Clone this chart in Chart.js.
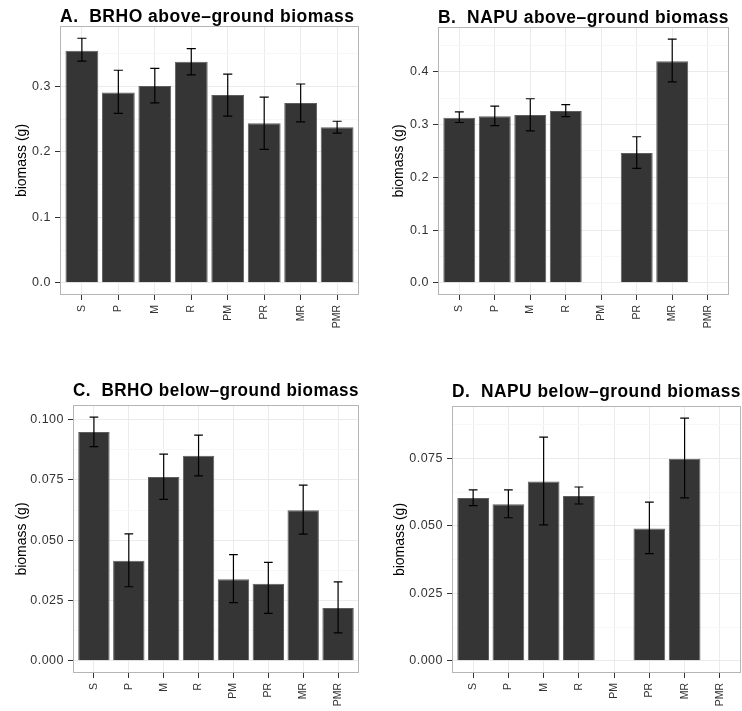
<!DOCTYPE html>
<html>
<head>
<meta charset="utf-8">
<script src="https://cdn.jsdelivr.net/npm/chart.js@4/dist/chart.umd.min.js"></script>
<style>
  body { margin: 0; background: #fff; }
  .panel { position: absolute; }
</style>
</head>
<body>
<div class="panel" style="left:0;top:0;width:370px;height:360px"><canvas id="chartA"></canvas></div>
<div class="panel" style="left:370px;top:0;width:372px;height:360px"><canvas id="chartB"></canvas></div>
<div class="panel" style="left:0;top:360px;width:370px;height:351px"><canvas id="chartC"></canvas></div>
<div class="panel" style="left:370px;top:360px;width:372px;height:351px"><canvas id="chartD"></canvas></div>
<script>
const treatments = ['S', 'P', 'M', 'R', 'PM', 'PR', 'MR', 'PMR'];

// A. BRHO above-ground biomass (mean, lower and upper error)
const brhoAbove   = [0.355, 0.291, 0.301, 0.338, 0.287, 0.244, 0.275, 0.238];
const brhoAboveLo = [0.339, 0.259, 0.275, 0.318, 0.255, 0.204, 0.246, 0.229];
const brhoAboveHi = [0.374, 0.325, 0.328, 0.358, 0.319, 0.284, 0.304, 0.247];

// B. NAPU above-ground biomass (PM and PMR missing)
const napuAbove   = [0.313, 0.316, 0.318, 0.326, null, 0.246, 0.420, null];
const napuAboveLo = [0.304, 0.298, 0.288, 0.315, null, 0.217, 0.381, null];
const napuAboveHi = [0.324, 0.335, 0.349, 0.338, null, 0.277, 0.462, null];

// C. BRHO below-ground biomass
const brhoBelow   = [0.0949, 0.0415, 0.0762, 0.0850, 0.0338, 0.0319, 0.0624, 0.0219];
const brhoBelowLo = [0.0888, 0.0307, 0.0669, 0.0767, 0.0241, 0.0197, 0.0525, 0.0116];
const brhoBelowHi = [0.1010, 0.0526, 0.0857, 0.0936, 0.0440, 0.0408, 0.0728, 0.0327];

// D. NAPU below-ground biomass
const napuBelow   = [0.0603, 0.0580, 0.0664, 0.0611, null, 0.0490, 0.0749, null];
const napuBelowLo = [0.0575, 0.0530, 0.0504, 0.0581, null, 0.0397, 0.0604, null];
const napuBelowHi = [0.0633, 0.0633, 0.0829, 0.0644, null, 0.0588, 0.0899, null];

// y tick labels (major) and minor grid lines
const ticksAbove   = [0, 0.1, 0.2, 0.3];
const minorAbove   = [0.05, 0.15, 0.25, 0.35];
const ticksAboveB  = [0, 0.1, 0.2, 0.3, 0.4];
const minorAboveB  = [0.05, 0.15, 0.25, 0.35, 0.45];
const ticksBelowC  = [0, 0.025, 0.05, 0.075, 0.1];
const minorBelowC  = [0.0125, 0.0375, 0.0625, 0.0875];
const ticksBelowD  = [0, 0.025, 0.05, 0.075];
const minorBelowD  = [0.0125, 0.0375, 0.0625, 0.0875];

const yAxisTitle = 'biomass (g)';

const FONT = "'Liberation Sans', Arial, Helvetica, sans-serif";
const TRACKING = '0.5px';   // horizontal text in the original is a little loose

function isMajor(v, majors) {
  return majors.some(m => Math.abs(m - v) < 1e-9);
}

// error bars, grey panel border and the rotated y axis title
function errorBarPlugin(p) {
  return {
    id: 'errorBars',
    beforeDraw(chart) {
      chart.ctx.letterSpacing = TRACKING;
    },
    beforeDatasetsDraw(chart) {
      chart.ctx.letterSpacing = '0px';
    },
    afterDatasetsDraw(chart) {
      const {ctx, chartArea, scales: {x, y}} = chart;
      const half = (x.getPixelForValue(1) - x.getPixelForValue(0)) * 0.125;
      ctx.save();
      ctx.strokeStyle = '#000';
      ctx.lineWidth = 1.2;
      p.lo.forEach((l, i) => {
        if (l == null) return;
        const px = x.getPixelForValue(i);
        const yl = y.getPixelForValue(l);
        const yh = y.getPixelForValue(p.hi[i]);
        ctx.beginPath();
        ctx.moveTo(px, yl); ctx.lineTo(px, yh);
        ctx.moveTo(px - half, yl); ctx.lineTo(px + half, yl);
        ctx.moveTo(px - half, yh); ctx.lineTo(px + half, yh);
        ctx.stroke();
      });
      ctx.strokeStyle = '#b5b5b5';
      ctx.lineWidth = 1;
      ctx.strokeRect(chartArea.left + 0.5, chartArea.top + 0.5,
        chartArea.right - chartArea.left - 1, chartArea.bottom - chartArea.top - 1);

      ctx.translate(p.axisTitleX, (chartArea.top + chartArea.bottom) / 2);
      ctx.rotate(-Math.PI / 2);
      ctx.font = '14px ' + FONT;
      ctx.fillStyle = '#000';
      ctx.textAlign = 'center';
      ctx.textBaseline = 'middle';
      ctx.fillText(yAxisTitle, 0, 0);
      ctx.restore();
    }
  };
}

function makePanel(id, p) {
  const ctx = document.getElementById(id).getContext('2d');
  return new Chart(ctx, {
    type: 'bar',
    data: {
      datasets: [{
        data: treatments.map((t, i) => ({x: i, y: p.values[i]})),
        backgroundColor: '#353535',
        borderColor: '#5e5e5e',
        borderWidth: 1,
        barPercentage: 0.9,
        categoryPercentage: 1.0,
      }],
    },
    options: {
      animation: false,
      responsive: true,
      maintainAspectRatio: false,
      devicePixelRatio: 1,
      layout: { padding: {left: 0, top: 0, right: p.padRight, bottom: 0} },
      plugins: {
        legend: { display: false },
        tooltip: { enabled: false },
        title: {
          display: true,
          text: p.title,
          align: 'start',
          fullSize: false,
          color: '#000',
          font: { family: FONT, size: 17.5, weight: 'bold', lineHeight: 1 },
          padding: { top: p.titleTop, bottom: p.titleBottom },
        },
      },
      scales: {
        x: {
          type: 'linear',
          min: -0.6,
          max: 7.6,
          offset: false,
          afterBuildTicks: s => { s.ticks = treatments.map((t, i) => ({value: i})); },
          afterFit: s => { s.height = p.xHeight; },
          ticks: {
            z: 1,
            autoSkip: false,
            minRotation: 90,
            maxRotation: 90,
            padding: 5,
            color: '#333',
            font: { family: FONT, size: 10.5 },
            callback: v => treatments[v],
          },
          grid: {
            offset: false,
            color: '#ebebeb',
            tickColor: '#333',
            tickLength: 5,
          },
          border: { display: false },
        },
        y: {
          min: p.yMin,
          max: p.yMax,
          afterBuildTicks: s => {
            s.ticks = p.ticks.concat(p.minor).sort((a, b) => a - b).map(v => ({value: v}));
          },
          afterFit: s => { s.width = p.yWidth; },
          ticks: {
            padding: 4,
            color: '#333',
            font: { family: FONT, size: 12.5 },
            callback: v => isMajor(v, p.ticks) ? v.toFixed(p.decimals) : '',
          },
          grid: {
            color: c => isMajor(c.tick.value, p.ticks) ? '#ebebeb' : '#f7f7f7',
            tickColor: c => isMajor(c.tick.value, p.ticks) ? '#333' : 'rgba(0,0,0,0)',
            tickLength: 5,
          },
          border: { display: false },
        },
      },
    },
    plugins: [errorBarPlugin(p)],
  });
}

makePanel('chartA', {
  title: 'A.  BRHO above\u2013ground biomass',
  values: brhoAbove, lo: brhoAboveLo, hi: brhoAboveHi,
  ticks: ticksAbove, minor: minorAbove, decimals: 1,
  yMin: -0.0187, yMax: 0.3927,
  yWidth: 60, padRight: 11, xHeight: 65, titleTop: 8.5, titleBottom: 0, axisTitleX: 22.5,
});

makePanel('chartB', {
  title: 'B.  NAPU above\u2013ground biomass',
  values: napuAbove, lo: napuAboveLo, hi: napuAboveHi,
  ticks: ticksAboveB, minor: minorAboveB, decimals: 1,
  yMin: -0.0231, yMax: 0.4851,
  yWidth: 68, padRight: 13, xHeight: 65, titleTop: 9.5, titleBottom: 0, axisTitleX: 29,
});

makePanel('chartC', {
  title: 'C.  BRHO below\u2013ground biomass',
  values: brhoBelow, lo: brhoBelowLo, hi: brhoBelowHi,
  ticks: ticksBelowC, minor: minorBelowC, decimals: 3,
  yMin: -0.00505, yMax: 0.10605,
  yWidth: 73, padRight: 11, xHeight: 38, titleTop: 22, titleBottom: 5.5, axisTitleX: 22.5,
});

makePanel('chartD', {
  title: 'D.  NAPU below\u2013ground biomass',
  values: napuBelow, lo: napuBelowLo, hi: napuBelowHi,
  ticks: ticksBelowD, minor: minorBelowD, decimals: 3,
  yMin: -0.0045, yMax: 0.0944,
  yWidth: 82, padRight: 1, xHeight: 38, titleTop: 23.5, titleBottom: 5, axisTitleX: 30,
});
</script>
</body>
</html>
